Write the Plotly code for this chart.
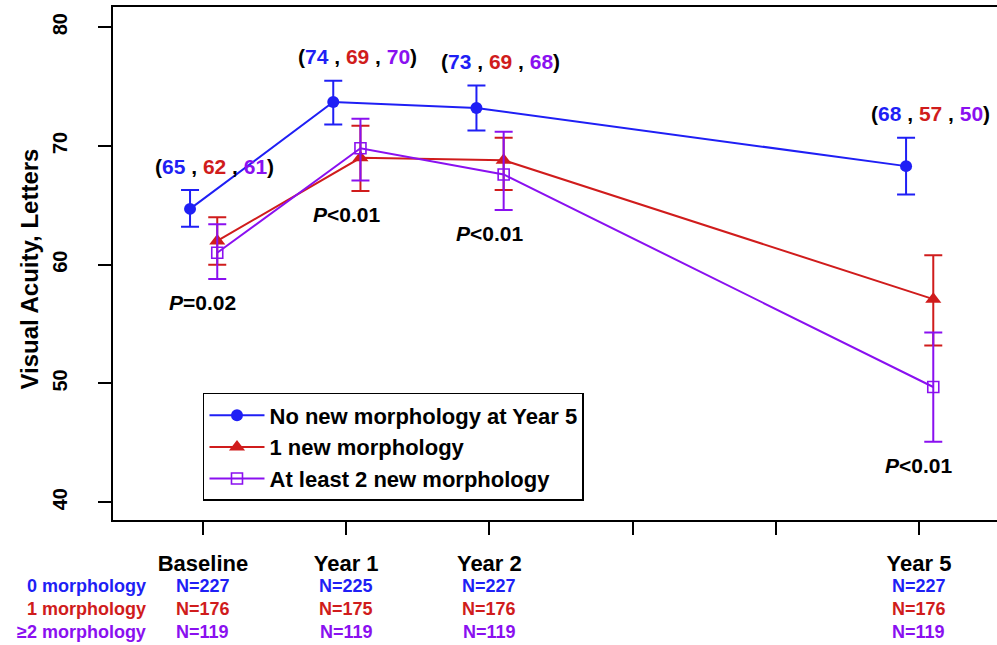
import plotly.graph_objects as go

# ---------------- data ----------------
time_points = [0, 1, 2, 5]
time_labels = ["Baseline", "Year 1", "Year 2", "", "", "Year 5"]
tick_positions = [0, 1, 2, 3, 4, 5]

series_names = ["No new morphology at Year 5", "1 new morphology", "At least 2 new morphology"]

blue_mean = [64.7, 73.7, 73.2, 68.3]
blue_upper = [66.3, 75.5, 75.1, 70.7]
blue_lower = [63.2, 71.8, 71.3, 65.9]

red_mean = [62.0, 69.0, 68.8, 57.1]
red_upper = [64.0, 71.7, 70.7, 60.8]
red_lower = [60.0, 66.2, 66.3, 53.2]

purple_mean = [61.0, 69.8, 67.6, 49.7]
purple_upper = [63.4, 72.3, 71.2, 54.3]
purple_lower = [58.8, 67.1, 64.6, 45.1]

p_values = ["=0.02", "<0.01", "<0.01", "<0.01"]

row_labels = ["0 morphology", "1 morphology", "\u22652 morphology"]
n_blue = [227, 225, 227, 227]
n_red = [176, 175, 176, 176]
n_purple = [119, 119, 119, 119]

# ---------------- styles ----------------
BLUE = "#1F1FF5"
RED = "#D01C1C"
PURPLE = "#8A10F0"
FONT = "Liberation Sans, Arial, sans-serif"

fig = go.Figure()


def add_series(name, mean, upper, lower, color, symbol, offset, msize, mline=0):
    xs = [t + offset for t in time_points]
    fig.add_trace(go.Scatter(
        x=xs, y=mean, name=name, mode="lines+markers",
        line=dict(color=color, width=2),
        marker=dict(symbol=symbol, size=msize, color=color,
                    line=dict(color=color, width=mline)),
        error_y=dict(type="data", symmetric=False,
                     array=[u - m for u, m in zip(upper, mean)],
                     arrayminus=[m - l for m, l in zip(mean, lower)],
                     color=color, thickness=2, width=9),
    ))


add_series(series_names[0], blue_mean, blue_upper, blue_lower, BLUE, "circle", -0.09, 12)
add_series(series_names[1], red_mean, red_upper, red_lower, RED, "triangle-up", 0.10, 14)
add_series(series_names[2], purple_mean, purple_upper, purple_lower, PURPLE, "square-open", 0.10, 11, mline=1.6)

annotations = []

# rounded-mean labels above the groups
for i, t in enumerate(time_points):
    txt = ("(<span style='color:%s'>%d</span> , <span style='color:%s'>%d</span> , "
           "<span style='color:%s'>%d</span>)") % (
        BLUE, round(blue_mean[i]), RED, round(red_mean[i]), PURPLE, round(purple_mean[i]))
    annotations.append(dict(x=t + 0.08, y=blue_upper[i] + 2.0, xref="x", yref="y", text=txt,
                            showarrow=False, font=dict(family=FONT, size=21, color="black", weight="bold")))

# P-values below the groups
for i, t in enumerate(time_points):
    txt = "<i>P</i>" + p_values[i].replace("<", "&lt;")
    y = min(red_lower[i], purple_lower[i]) - 2.0
    annotations.append(dict(x=t, y=y, xref="x", yref="y", text=txt, showarrow=False,
                            font=dict(family=FONT, size=21, color="black", weight="bold")))

# N table under the axis
row_y = [-0.1287, -0.1735, -0.2183]
row_colors = [BLUE, RED, PURPLE]
for r, (lab, ns) in enumerate(zip(row_labels, [n_blue, n_red, n_purple])):
    annotations.append(dict(x=0.0396, y=row_y[r], xref="paper", yref="paper", text=lab,
                            xanchor="right", yanchor="middle", showarrow=False,
                            font=dict(family=FONT, size=18, color=row_colors[r], weight="bold")))
    for i, t in enumerate(time_points):
        annotations.append(dict(x=t, y=row_y[r], xref="x", yref="paper", text="N=%d" % ns[i],
                                showarrow=False, yanchor="middle",
                                font=dict(family=FONT, size=18, color=row_colors[r], weight="bold")))

# y axis title
annotations.append(dict(x=-0.094, y=0.49, xref="paper", yref="paper", text="Visual Acuity, Letters",
                        textangle=-90, showarrow=False, xanchor="center", yanchor="middle",
                        font=dict(family=FONT, size=24, color="black", weight="bold")))

fig.update_layout(
    width=997, height=645,
    margin=dict(l=113, r=0, t=7, b=125),
    paper_bgcolor="white", plot_bgcolor="white",
    font=dict(family=FONT, color="black"),
    showlegend=True,
    legend=dict(x=0.1018, y=0.2476, xanchor="left", yanchor="top",
                bgcolor="white", bordercolor="black", borderwidth=1.5,
                font=dict(family=FONT, size=22, color="black", weight="bold"),
                itemwidth=55, tracegroupgap=0),
    annotations=annotations,
)

fig.update_xaxes(range=[-0.628, 5.545], tickvals=tick_positions, ticktext=time_labels,
                 showline=True, linecolor="black", linewidth=2, mirror=True,
                 ticks="outside", ticklen=13, tickwidth=2, tickcolor="black",
                 ticklabelstandoff=10,
                 showgrid=False, zeroline=False,
                 tickfont=dict(family=FONT, size=22, color="black", weight="bold"))
fig.update_yaxes(range=[38.5, 81.7], tickvals=[40, 50, 60, 70, 80],
                 showline=True, linecolor="black", linewidth=2,
                 ticks="outside", ticklen=13, tickwidth=2, tickcolor="black",
                 tickangle=-90, ticklabelstandoff=23,
                 showgrid=False, zeroline=False,
                 tickfont=dict(family=FONT, size=20, color="black", weight="bold"))

fig.write_html("out.html", config={"displayModeBar": False},
               post_script="document.body.style.margin='0';")
